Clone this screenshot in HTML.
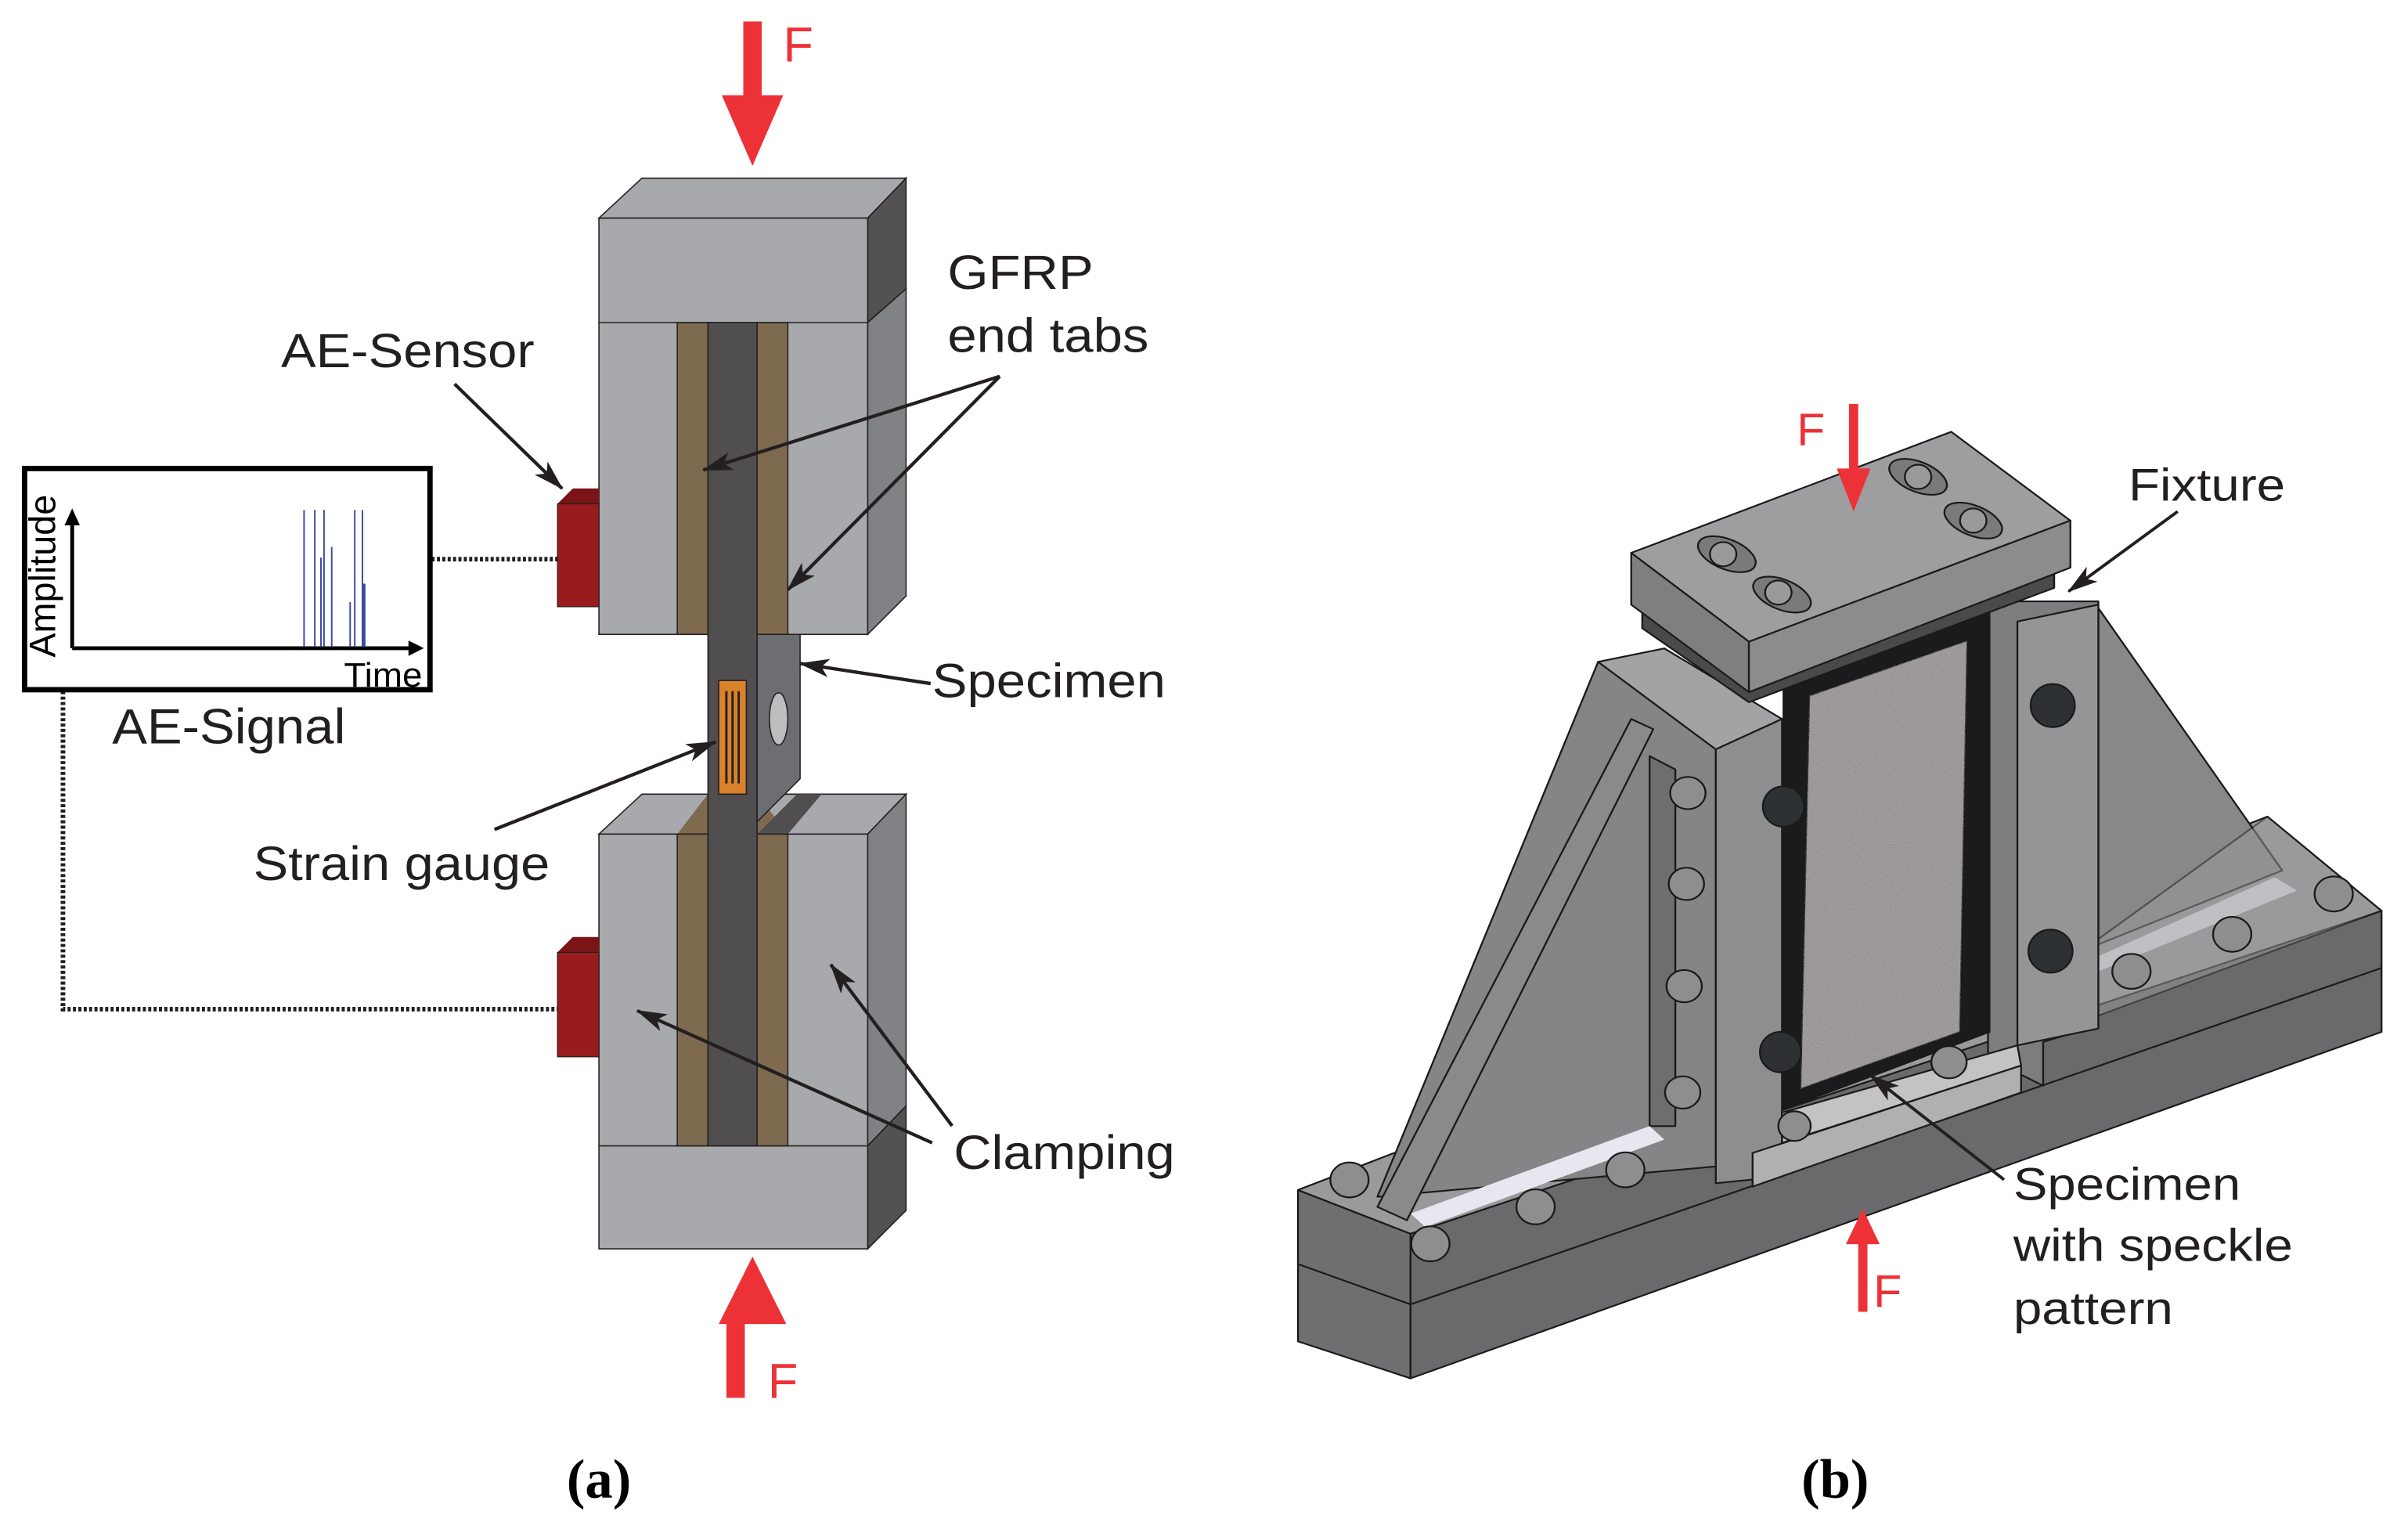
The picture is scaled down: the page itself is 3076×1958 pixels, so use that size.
<!DOCTYPE html>
<html><head><meta charset="utf-8"><style>
html,body{margin:0;padding:0;background:#fff;}
svg{display:block;}
text{font-family:"Liberation Sans",sans-serif;}
</style></head><body>
<svg width="3076" height="1958" viewBox="0 0 1568 998" preserveAspectRatio="none" xmlns="http://www.w3.org/2000/svg">
<defs>
<marker id="ah2" viewBox="0 0 20 12" markerWidth="20" markerHeight="12" refX="19" refY="6" orient="auto" markerUnits="userSpaceOnUse"><path d="M0,0 L20,6 L0,12 L5,6 z" fill="#231f20"/></marker>
<filter id="spk" x="0" y="0" width="1" height="1"><feTurbulence type="fractalNoise" baseFrequency="0.9" numOctaves="2" seed="3"/><feColorMatrix type="matrix" values="0 0 0 0 0.25  0 0 0 0 0.25  0 0 0 0 0.27  0 0 0 -2.5 1.6"/><feComposite in2="SourceGraphic" operator="in"/></filter>
</defs>

<!-- ===== Panel (a) ===== -->
<rect x="484" y="14" width="12" height="50" fill="#ed3237"/>
<polygon points="470,62 510,62 490,108" fill="#ed3237"/>
<text x="510" y="40" font-size="32" fill="#ed3237">F</text>

<polygon points="390,142 418,116 590,116 565,142" fill="#a7a9ac" stroke="#231f20" stroke-width="0.8"/>
<polygon points="565,142 590,116 590,188 565,210" fill="#545153" stroke="#231f20" stroke-width="0.8"/>
<polygon points="565,210 590,188 590,388 565,413" fill="#808285" stroke="#231f20" stroke-width="0.8"/>
<rect x="390" y="142" width="175" height="271" fill="#a7a9ac" stroke="#231f20" stroke-width="0.8"/>
<line x1="390" y1="210" x2="565" y2="210" stroke="#231f20" stroke-width="0.8"/>
<rect x="441" y="210" width="20" height="203" fill="#7d6a4f" stroke="#231f20" stroke-width="0.8"/>
<rect x="493" y="210" width="20" height="203" fill="#7d6a4f" stroke="#231f20" stroke-width="0.8"/>

<polygon points="390,543 418,517 590,517 565,543" fill="#a7a9ac" stroke="#231f20" stroke-width="0.8"/>
<polygon points="441,543 461,517 493,517 513,543" fill="#7d6a4f"/>
<polygon points="493,543 519,517 535,517 513,543" fill="#514e4f"/>
<polygon points="565,543 590,517 590,720 565,746" fill="#808285" stroke="#231f20" stroke-width="0.8"/>
<polygon points="565,746 590,720 590,788 565,813" fill="#545153" stroke="#231f20" stroke-width="0.8"/>
<rect x="390" y="543" width="175" height="270" fill="#a7a9ac" stroke="#231f20" stroke-width="0.8"/>
<line x1="390" y1="746" x2="565" y2="746" stroke="#231f20" stroke-width="0.8"/>
<rect x="441" y="543" width="20" height="203" fill="#7d6a4f" stroke="#231f20" stroke-width="0.8"/>
<rect x="493" y="543" width="20" height="203" fill="#7d6a4f" stroke="#231f20" stroke-width="0.8"/>

<rect x="461" y="210" width="32" height="536" fill="#514e4f" stroke="#231f20" stroke-width="0.8"/>
<polygon points="493,413 521,413 521,507 493,535" fill="#6d6e71" stroke="#231f20" stroke-width="0.8"/>
<ellipse cx="507" cy="468" rx="6" ry="17" fill="#bcbec0" stroke="#231f20" stroke-width="0.8"/>
<rect x="468" y="443" width="18" height="74" fill="#d9822b" stroke="#231f20" stroke-width="0.8"/>
<line x1="473" y1="450" x2="473" y2="510" stroke="#231f20" stroke-width="1.5"/>
<line x1="477" y1="450" x2="477" y2="510" stroke="#231f20" stroke-width="1.5"/>
<line x1="481" y1="450" x2="481" y2="510" stroke="#231f20" stroke-width="1.5"/>

<polygon points="363,328 373,318 390,318 390,328" fill="#7a1416"/>
<rect x="363" y="328" width="27" height="67" fill="#981b1e" stroke="#231f20" stroke-width="0.6"/>
<polygon points="363,620 373,610 390,610 390,620" fill="#7a1416"/>
<rect x="363" y="620" width="27" height="68" fill="#981b1e" stroke="#231f20" stroke-width="0.6"/>

<polyline points="281,364 363,364" fill="none" stroke="#231f20" stroke-width="3" stroke-dasharray="2,1.5"/>
<polyline points="41,450 41,657 363,657" fill="none" stroke="#231f20" stroke-width="3" stroke-dasharray="2,1.5"/>

<rect x="16" y="305" width="264" height="144" fill="#fff" stroke="#000" stroke-width="3.5"/>
<line x1="47" y1="422" x2="47" y2="340" stroke="#000" stroke-width="2.5"/>
<polygon points="42,342 52,342 47,331" fill="#000"/>
<line x1="47" y1="422" x2="268" y2="422" stroke="#000" stroke-width="2.5"/>
<polygon points="266,417 266,427 276,422" fill="#000"/>
<g stroke="#3b4aa6" stroke-width="1">
<line x1="198" y1="332" x2="198" y2="421"/><line x1="205" y1="332" x2="205" y2="421"/>
<line x1="211" y1="332" x2="211" y2="421"/><line x1="209" y1="363" x2="209" y2="421"/>
<line x1="216" y1="356" x2="216" y2="421"/><line x1="228" y1="392" x2="228" y2="421"/>
<line x1="231" y1="332" x2="231" y2="421"/><line x1="236" y1="332" x2="236" y2="421"/>
<line x1="237" y1="380" x2="237" y2="421" stroke-width="2"/>
</g>
<text transform="translate(36,428) rotate(-90)" font-size="24" fill="#000" textLength="106" lengthAdjust="spacingAndGlyphs">Amplitude</text>
<text x="224" y="447" font-size="22" fill="#000" textLength="51" lengthAdjust="spacingAndGlyphs">Time</text>
<text x="73" y="484" font-size="32" fill="#231f20" textLength="152" lengthAdjust="spacingAndGlyphs">AE-Signal</text>

<g fill="#231f20" font-size="31">
<text x="183" y="239" textLength="165" lengthAdjust="spacingAndGlyphs">AE-Sensor</text>
<text x="617" y="188" textLength="95" lengthAdjust="spacingAndGlyphs">GFRP</text>
<text x="617" y="229" textLength="131" lengthAdjust="spacingAndGlyphs">end tabs</text>
<text x="607" y="454" textLength="152" lengthAdjust="spacingAndGlyphs">Specimen</text>
<text x="165" y="573" textLength="193" lengthAdjust="spacingAndGlyphs">Strain gauge</text>
<text x="621" y="761" textLength="144" lengthAdjust="spacingAndGlyphs">Clamping</text>
</g>
<g stroke="#231f20" stroke-width="2.2" fill="none" marker-end="url(#ah2)">
<line x1="296" y1="250" x2="366" y2="318"/>
<line x1="651" y1="245" x2="458" y2="306"/>
<line x1="651" y1="245" x2="513" y2="384"/>
<line x1="606" y1="445" x2="521" y2="432"/>
<line x1="322" y1="540" x2="466" y2="483"/>
<line x1="607" y1="744" x2="415" y2="658"/>
<line x1="620" y1="733" x2="541" y2="628"/>
</g>

<polygon points="490,818 512,862 468,862" fill="#ed3237"/>
<rect x="473" y="860" width="12" height="50" fill="#ed3237"/>
<text x="500" y="910" font-size="32" fill="#ed3237">F</text>

<text x="390" y="975" font-size="36" font-weight="bold" text-anchor="middle" style="font-family:'Liberation Serif',serif">(a)</text>
<text x="1195" y="975" font-size="36" font-weight="bold" text-anchor="middle" style="font-family:'Liberation Serif',serif">(b)</text>

<!-- ===== Panel (b) ===== -->
<g transform="translate(815.5,229.4) scale(0.479,0.438)" stroke="#1a1a1a" stroke-width="2.5" stroke-linejoin="round">
<polygon points="62,1245 215,1310 215,1525 62,1470" fill="#6f6f71"/>
<polygon points="215,1310 1535,830 1535,1010 215,1525" fill="#6a6a6c"/>
<line x1="215" y1="1415" x2="1535" y2="915"/>
<line x1="62" y1="1355" x2="215" y2="1415"/>
<polygon points="62,1245 1380,690 1535,830 215,1310" fill="#9a9a9c"/>
<polygon points="1150,380 1400,770 1150,880" fill="#888889"/>
<polygon points="1145,900 1390,780 1420,800 1150,920" fill="#e8e6ee" stroke="none"/>
<polygon points="1140,880 1140,990 1535,830 1380,690" fill="#9a9a9c" opacity="0.5"/>
<polygon points="1000,380 1040,370 1150,370 1150,1000 1075,1025 1075,1090 1020,1060 1000,1040" fill="#7d7d7f"/>
<polygon points="1040,400 1150,375 1150,1005 1040,1030" fill="#959597"/>
<polygon points="470,460 630,590 630,1210 170,1255" fill="#858587"/>
<polygon points="540,600 575,620 575,1150 540,1150" fill="#6e6e70"/>
<polygon points="215,1280 540,1150 560,1170 235,1300" fill="#e8e6ee" stroke="none"/>
<polygon points="470,460 560,440 720,545 630,590" fill="#a3a3a5"/>
<polygon points="630,590 720,545 720,1225 630,1235" fill="#8e8e90"/>
<polygon points="170,1270 515,545 545,560 210,1290" fill="#8a8a8c"/>
<polygon points="680,1190 1045,1060 1045,1100 680,1240" fill="#b0b0b2"/>
<polygon points="720,1130 1040,1030 1045,1060 720,1175" fill="#c3c3c5"/>
<polygon points="722,490 1002,378 1002,1010 722,1125" fill="#1b1b1d"/>
<polygon points="757,510 972,428 962,1010 745,1095" fill="#a8a2a0"/>
<polygon points="757,510 972,428 962,1010 745,1095" fill="#000" filter="url(#spk)" stroke="none"/>
<polygon points="530,380 675,470 1090,330 1090,350 675,520 530,410" fill="#4a4a4c"/>
<polygon points="515,298 950,118 1112,250 675,430" fill="#9e9ea0"/>
<polygon points="515,298 675,430 675,505 515,375" fill="#7f7f81"/>
<polygon points="675,430 1112,250 1112,320 675,505" fill="#8c8c8e"/>
<g fill="#7a7a7c">
<ellipse cx="905" cy="185" rx="42" ry="22" transform="rotate(25 905 185)"/>
<ellipse cx="980" cy="250" rx="42" ry="22" transform="rotate(25 980 250)"/>
<ellipse cx="645" cy="300" rx="42" ry="22" transform="rotate(25 645 300)"/>
<ellipse cx="720" cy="360" rx="42" ry="22" transform="rotate(25 720 360)"/>
</g>
<g fill="#9a9a9c">
<circle cx="905" cy="185" r="18"/><circle cx="980" cy="250" r="18"/>
<circle cx="640" cy="300" r="18"/><circle cx="715" cy="357" r="18"/>
</g>
<g fill="#8e8e90">
<circle cx="592" cy="655" r="24"/><circle cx="590" cy="790" r="24"/>
<circle cx="587" cy="942" r="24"/><circle cx="585" cy="1100" r="24"/>
<circle cx="132" cy="1230" r="26"/><circle cx="242" cy="1325" r="26"/>
<circle cx="385" cy="1270" r="26"/><circle cx="507" cy="1215" r="26"/>
<circle cx="1195" cy="920" r="26"/><circle cx="1332" cy="865" r="26"/>
<circle cx="1470" cy="805" r="26"/>
<circle cx="737" cy="1150" r="22"/><circle cx="947" cy="1055" r="24"/>
</g>
<g fill="#2e3133">
<ellipse cx="722" cy="675" rx="28" ry="30"/><ellipse cx="718" cy="1040" rx="28" ry="30"/>
<ellipse cx="1088" cy="525" rx="30" ry="32"/><ellipse cx="1085" cy="890" rx="30" ry="32"/>
</g>
</g>

<rect x="1204" y="263" width="6" height="45" fill="#ed3237"/>
<polygon points="1196,305 1218,305 1207,333" fill="#ed3237"/>
<text x="1170" y="290" font-size="30" fill="#ed3237">F</text>
<polygon points="1213,787 1224,810 1202,810" fill="#ed3237"/>
<rect x="1210" y="808" width="6" height="46" fill="#ed3237"/>
<text x="1220" y="851" font-size="30" fill="#ed3237">F</text>

<g fill="#231f20" font-size="30">
<text x="1386" y="326" textLength="102" lengthAdjust="spacingAndGlyphs">Fixture</text>
<text x="1311" y="781" textLength="148" lengthAdjust="spacingAndGlyphs">Specimen</text>
<text x="1311" y="821" textLength="182" lengthAdjust="spacingAndGlyphs">with speckle</text>
<text x="1311" y="862" textLength="104" lengthAdjust="spacingAndGlyphs">pattern</text>
</g>
<g stroke="#231f20" stroke-width="2" fill="none" marker-end="url(#ah2)">
<line x1="1418" y1="333" x2="1347" y2="385"/>
<line x1="1305" y1="768" x2="1218" y2="700"/>
</g>
</svg>
</body></html>
